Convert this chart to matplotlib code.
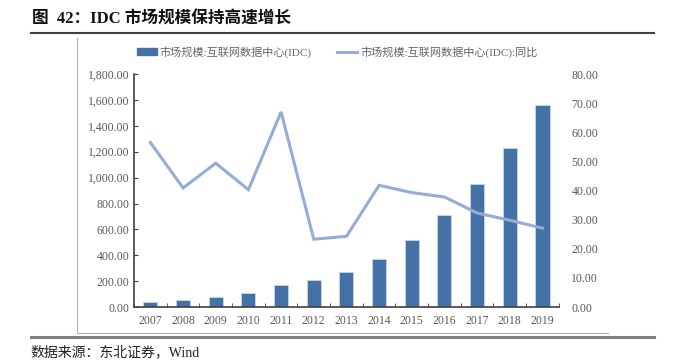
import numpy as np
import matplotlib.pyplot as plt
from matplotlib.lines import Line2D

plt.rcParams['font.family'] = ['Liberation Serif', 'Noto Sans CJK SC', 'DejaVu Sans']

years = ['2007', '2008', '2009', '2010', '2011', '2012', '2013',
         '2014', '2015', '2016', '2017', '2018', '2019']
market = [37, 54, 75, 106, 172, 211, 268, 371, 515, 714, 947, 1228, 1563]
growth = [56.5, 40.9, 49.4, 40.3, 67.0, 23.3, 24.3, 41.8, 39.3, 37.8, 32.3, 29.8, 27.1]

bar_c = '#4472a6'
line_c = '#95acd6'
tick_c = '#595959'

fig = plt.figure(figsize=(6.84, 3.63), dpi=100)
ax = fig.add_axes([0.196, 0.154, 0.621, 0.642])
ax2 = ax.twinx()

x = np.arange(len(years))
ax.bar(x, market, width=0.43, color=bar_c, edgecolor='#c9d6ea', linewidth=0.6, zorder=2)
ax2.plot(x, growth, color=line_c, lw=2.2, solid_joinstyle='miter', zorder=3)

ax.set_xlim(-0.5, len(years) - 0.5)
ax.set_ylim(0, 1800)
ax2.set_ylim(0, 80)
ax.set_yticks(np.arange(0, 1801, 200))
ax.set_yticklabels(['{:,.2f}'.format(v) for v in np.arange(0, 1801, 200)])
ax2.set_yticks(np.arange(0, 81, 10))
ax2.set_yticklabels(['{:.2f}'.format(v) for v in np.arange(0, 81, 10)])
ax.set_xticks(x)
ax.set_xticklabels(years)
ax.set_xticks(np.arange(-0.5, len(years), 1), minor=True)

for a in (ax, ax2):
    for s in a.spines.values():
        s.set_visible(False)
ax.spines['left'].set_visible(True)
ax.spines['bottom'].set_visible(True)
ax.spines['left'].set_color('#404040')
ax.spines['bottom'].set_color('#404040')
ax.spines['left'].set_linewidth(1.2)
ax.spines['bottom'].set_linewidth(1.2)

ax.tick_params(axis='y', colors=tick_c, labelsize=8.5, length=3, direction='in', color='#404040')
ax.tick_params(axis='x', which='major', length=0, colors=tick_c, labelsize=8.5, pad=6)
ax.tick_params(axis='x', which='minor', length=3, direction='in', color='#404040')
ax2.tick_params(axis='y', colors=tick_c, labelsize=8.5, length=0, pad=9)

handles = [plt.Rectangle((0, 0), 1, 1, color=bar_c),
           Line2D([0], [0], color=line_c, lw=2.2)]
labels = ['市场规模:互联网数据中心(IDC)', '市场规模:互联网数据中心(IDC):同比']
leg = fig.legend(handles, labels, loc='center', bbox_to_anchor=(0.493, 0.857), ncol=2,
                 frameon=False, fontsize=8, handlelength=1.8, handleheight=0.6,
                 columnspacing=2.3, handletextpad=0.25)
for t in leg.get_texts():
    t.set_color('#666666')

# page decorations
fig.add_artist(Line2D([0.045, 0.956], [0.909, 0.909], color='#404040', lw=1.5))
fig.add_artist(Line2D([0.045, 0.956], [0.072, 0.072], color='#808080', lw=2.2))
fig.add_artist(Line2D([0.1126, 0.1126], [0.083, 0.895], color='#b0b0b0', lw=0.8))
fig.add_artist(Line2D([0.1126, 0.889], [0.083, 0.083], color='#b0b0b0', lw=0.8))

fig.text(0.047, 0.945, '图  42：IDC 市场规模保持高速增长', fontsize=12, fontweight='bold',
         va='center', ha='left', color='#111111')
fig.text(0.045, 0.030, '数据来源：东北证券，Wind', fontsize=10, va='center', ha='left',
         color='#222222')

fig.savefig('out.png', dpi=100)
